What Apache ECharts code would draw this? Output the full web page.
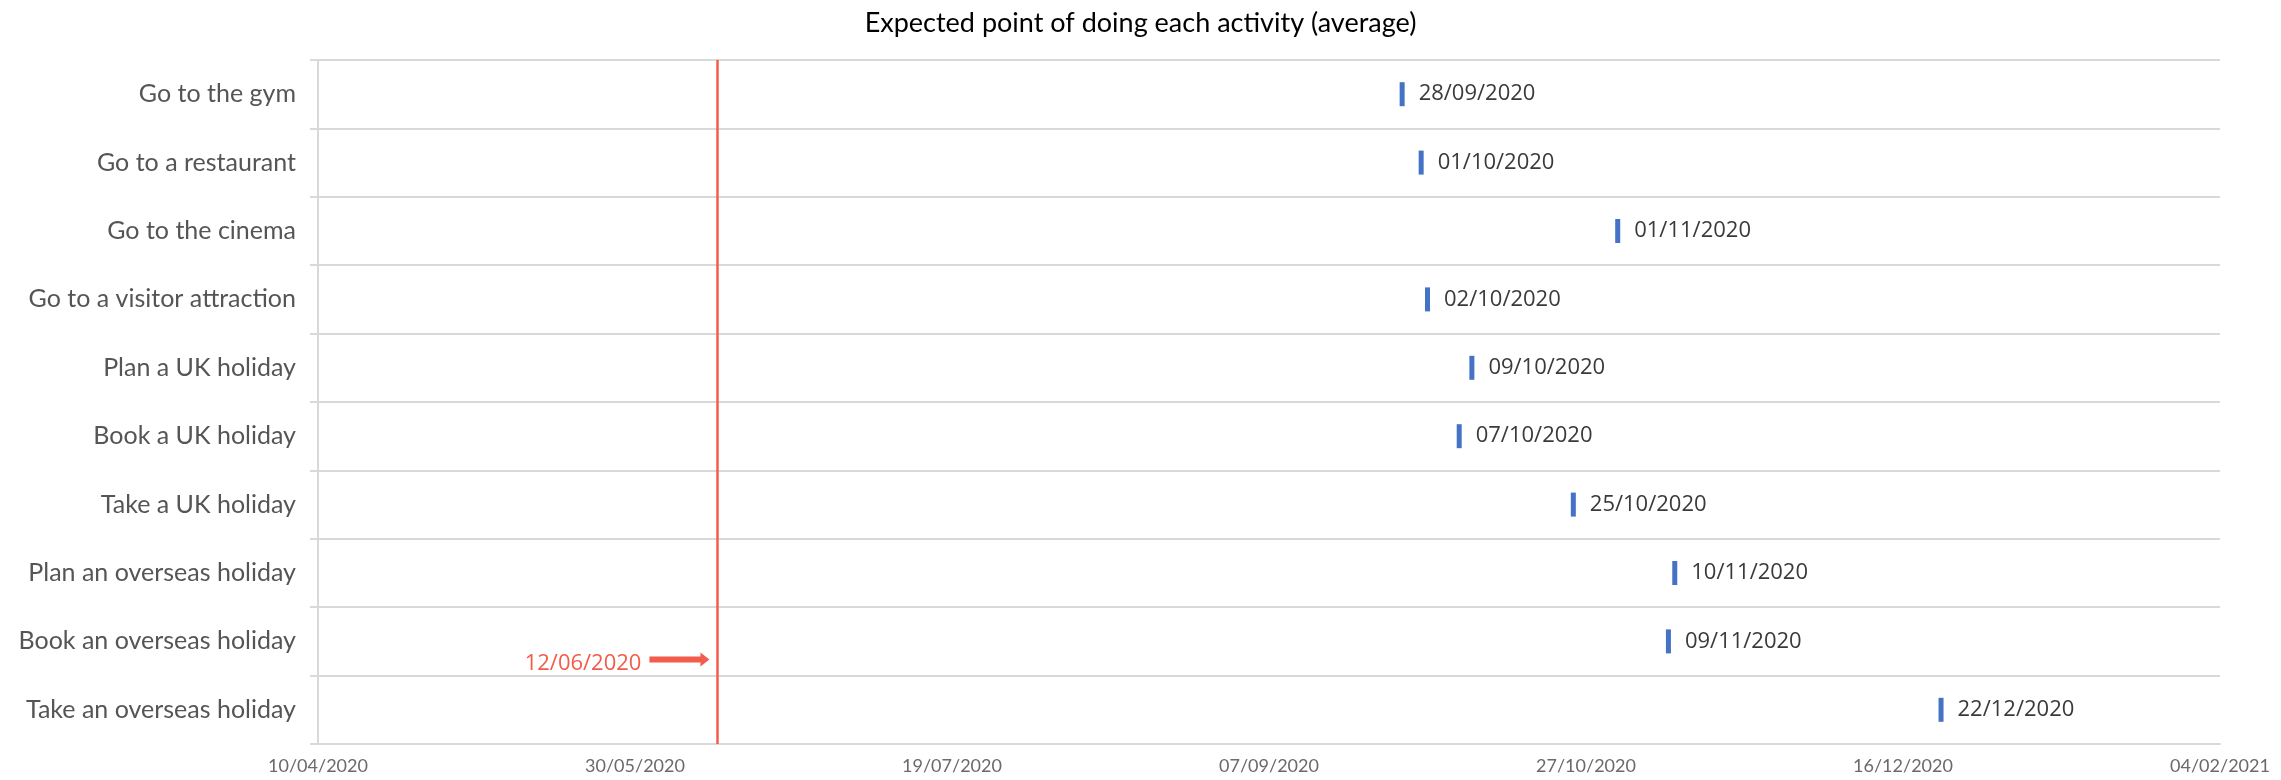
<!DOCTYPE html>
<html>
<head>
<meta charset="utf-8">
<script src="https://cdn.jsdelivr.net/npm/echarts@6/dist/echarts.min.js"></script>
<style>
html,body{margin:0;padding:0;background:#fff;}
#chart{width:2281px;height:780px;}
</style>
</head>
<body>
<div id="chart"></div>
<script>
// ---- data ----
const title = 'Expected point of doing each activity (average)';
const activities = [
  'Go to the gym',
  'Go to a restaurant',
  'Go to the cinema',
  'Go to a visitor attraction',
  'Plan a UK holiday',
  'Book a UK holiday',
  'Take a UK holiday',
  'Plan an overseas holiday',
  'Book an overseas holiday',
  'Take an overseas holiday'
];
const expectedDates = [
  '28/09/2020',
  '01/10/2020',
  '01/11/2020',
  '02/10/2020',
  '09/10/2020',
  '07/10/2020',
  '25/10/2020',
  '10/11/2020',
  '09/11/2020',
  '22/12/2020'
];
const axisStart = '10/04/2020';
const axisEnd = '04/02/2021';
const tickStepDays = 50;
const referenceDate = '12/06/2020';
const referenceRow = 'Book an overseas holiday';

// ---- helpers ----
const DAY = 86400000;
function parseDMY(s){ const [d,m,y] = s.split('/').map(Number); return Date.UTC(y, m-1, d); }
function fmtDMY(t){ const d = new Date(t); const p = n => String(n).padStart(2,'0');
  return p(d.getUTCDate()) + '/' + p(d.getUTCMonth()+1) + '/' + d.getUTCFullYear(); }
const t0 = parseDMY(axisStart);
const toDay = s => Math.round((parseDMY(s) - t0) / DAY);
const fromDay = v => fmtDMY(t0 + v * DAY);

const seriesData = activities.map((a, i) => ({ value: [toDay(expectedDates[i]), a], label: expectedDates[i] }));
const refDay = toDay(referenceDate);

const labelFont = 'Lato';
const chart = echarts.init(document.getElementById('chart'), null, {renderer: 'canvas'});
chart.setOption({
  animation: false,
  backgroundColor: '#ffffff',
  title: {
    text: title, left: 'center', top: 5,
    textStyle: { fontFamily: labelFont, fontSize: 27, fontWeight: 'normal', color: '#000000' }
  },
  grid: { left: 318, right: 61, top: 60, bottom: 36, containLabel: false },
  xAxis: {
    type: 'value', min: 0, max: toDay(axisEnd), interval: tickStepDays,
    axisLine: { show: true, lineStyle: { color: '#d9d9d9', width: 2 } },
    axisTick: { show: false },
    splitLine: { show: false },
    axisLabel: {
      formatter: v => fromDay(v), color: '#6a6a6a', fontFamily: labelFont, fontSize: 18, margin: 13
    }
  },
  yAxis: {
    type: 'category', data: activities, inverse: true, boundaryGap: true,
    axisLine: { show: true, lineStyle: { color: '#d9d9d9', width: 2 } },
    axisTick: { show: true, length: 8, lineStyle: { color: '#d9d9d9', width: 2 } },
    splitLine: { show: true, lineStyle: { color: '#d9d9d9', width: 2 } },
    axisLabel: { color: '#555555', fontFamily: labelFont, fontSize: 25, margin: 22 }
  },
  series: [{
    type: 'scatter',
    symbol: 'rect',
    symbolSize: [5, 24],
    itemStyle: { color: '#4472C4', opacity: 1 },
    data: seriesData,
    label: {
      show: true, position: 'right', distance: 14,
      formatter: p => p.data.label,
      color: '#3a3a3a', fontFamily: 'Open Sans', fontSize: 22
    },
    markLine: {
      silent: true, symbol: ['none', 'none'],
      lineStyle: { color: '#F25C4B', width: 2.5, type: 'solid' },
      label: { show: false },
      data: [{ xAxis: refDay }]
    }
  }]
});

// annotation: arrow + date label pointing to the reference line
function drawAnnotation(){
  const x = chart.convertToPixel({xAxisIndex: 0}, refDay);
  const yc = chart.convertToPixel({yAxisIndex: 0}, referenceRow);
  const y = yc + 18;
  chart.setOption({
    graphic: [
      { type: 'rect', shape: { x: x - 68, y: y - 3, width: 52, height: 6 }, style: { fill: '#F25C4B' } },
      { type: 'polygon', shape: { points: [[x - 17, y - 7], [x - 8, y], [x - 17, y + 7]] }, style: { fill: '#F25C4B' } },
      { type: 'text', x: x - 76, y: y + 4, style: {
          text: referenceDate, align: 'right', verticalAlign: 'middle',
          fill: '#F25C4B', font: '22px "Open Sans"' } }
    ]
  });
}
drawAnnotation();
</script>
</body>
</html>
